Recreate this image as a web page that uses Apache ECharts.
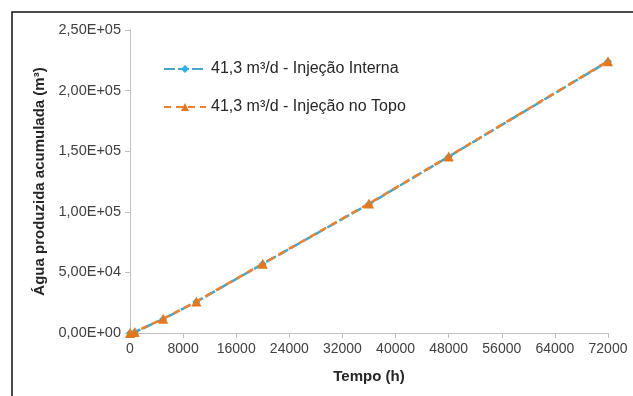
<!DOCTYPE html>
<html>
<head>
<meta charset="utf-8">
<style>
  html, body { margin: 0; padding: 0; background: #fff; }
  #chart { width: 633px; height: 396px; }
</style>
<script src="https://cdn.jsdelivr.net/npm/echarts@6/dist/echarts.min.js"></script>
</head>
<body>
<div id="chart"></div>
<script>
// Tempo (h)
const tempo = [0, 720, 5000, 10000, 20000, 36000, 48000, 72000];
// Água produzida acumulada (m³)
const injecaoInterna = [0, 800, 11500, 25800, 57000, 106500, 145500, 224000];
const injecaoTopo = [0, 850, 11700, 26000, 57200, 106800, 145700, 224300];
const seriesNames = ['41,3 m³/d - Injeção Interna', '41,3 m³/d - Injeção no Topo'];

const FONT = '"Liberation Sans", Arial, sans-serif';

// Scientific notation with comma decimal separator, e.g. 2,50E+05
function sci(v) {
  if (v === 0) return '0,00E+00';
  const e = Math.floor(Math.log10(Math.abs(v)));
  const m = (v / Math.pow(10, e)).toFixed(2).replace('.', ',');
  const sign = e < 0 ? '-' : '+';
  const ex = String(Math.abs(e)).padStart(2, '0');
  return m + 'E' + sign + ex;
}

const chart = echarts.init(document.getElementById('chart'), null, { renderer: 'canvas' });

chart.setOption({
  backgroundColor: '#ffffff',
  animation: false,
  graphic: [{
    type: 'rect',
    shape: { x: 12, y: 12, width: 800, height: 600 },
    style: { fill: 'none', stroke: '#111', lineWidth: 1.5 },
    silent: true,
    z: 100
  }],
  grid: { left: 130, right: 25, top: 30, bottom: 63, containLabel: false },
  legend: {
    orient: 'vertical',
    left: 158,
    top: 56,
    itemWidth: 42,
    itemHeight: 10,
    itemGap: 22,
    textStyle: { fontFamily: FONT, fontSize: 16, color: '#262626' },
    data: seriesNames
  },
  xAxis: {
    type: 'value',
    min: 0,
    max: 72000,
    interval: 8000,
    name: 'Tempo (h)',
    nameLocation: 'middle',
    nameGap: 36,
    nameTextStyle: { fontFamily: FONT, fontSize: 15, fontWeight: 'bold', color: '#262626' },
    axisLine: { show: true, lineStyle: { color: '#bfbfbf', width: 1 } },
    axisTick: { show: true, length: 5, lineStyle: { color: '#bfbfbf' } },
    axisLabel: { fontFamily: FONT, fontSize: 14, color: '#404040', margin: 9, formatter: v => String(v) },
    splitLine: { show: false }
  },
  yAxis: {
    type: 'value',
    min: 0,
    max: 250000,
    interval: 50000,
    name: 'Água produzida acumulada (m³)',
    nameLocation: 'middle',
    nameGap: 83,
    nameRotate: 90,
    nameTextStyle: { fontFamily: FONT, fontSize: 15, fontWeight: 'bold', color: '#262626' },
    axisLine: { show: true, lineStyle: { color: '#bfbfbf', width: 1 } },
    axisTick: { show: true, length: 5, lineStyle: { color: '#bfbfbf' } },
    axisLabel: { fontFamily: FONT, fontSize: 14.5, color: '#404040', margin: 9, formatter: sci },
    splitLine: { show: false }
  },
  series: [
    {
      name: seriesNames[0],
      type: 'line',
      data: tempo.map((t, i) => [t, injecaoInterna[i]]),
      symbol: 'diamond',
      symbolSize: 8,
      itemStyle: { color: '#2eb2e4' },
      lineStyle: { color: '#45a6c6', width: 2.5, type: [11, 3] },
      z: 2
    },
    {
      name: seriesNames[1],
      type: 'line',
      data: tempo.map((t, i) => [t, injecaoTopo[i]]),
      symbol: 'triangle',
      symbolSize: 10,
      itemStyle: { color: '#e3781f' },
      lineStyle: { color: '#ec8230', width: 2.5, type: [7, 5] },
      z: 3
    }
  ]
});
</script>
</body>
</html>
